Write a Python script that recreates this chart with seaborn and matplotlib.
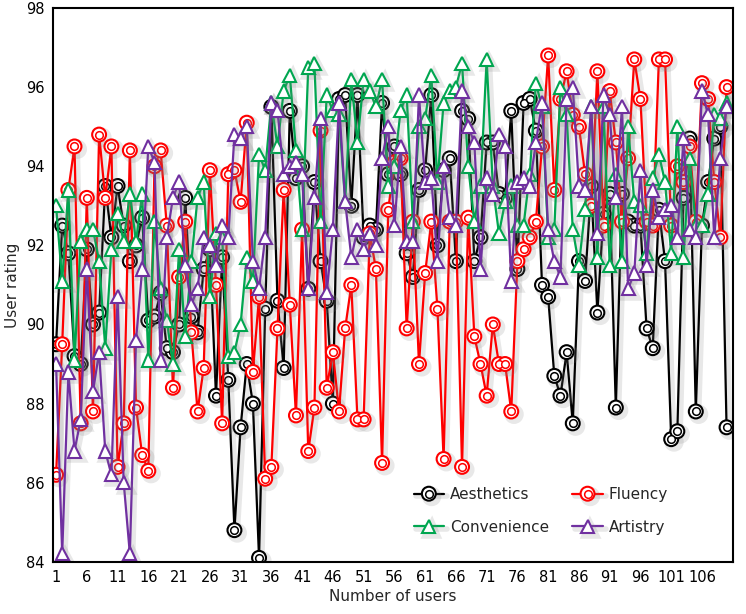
import numpy as np
import pandas as pd
import matplotlib
matplotlib.use("Agg")
import matplotlib.pyplot as plt
import matplotlib.patheffects as pe
from matplotlib.legend_handler import HandlerTuple
import seaborn as sns

# Data
users = list(range(1, 111))

aesthetics = [89.5, 92.5, 91.8, 89.2, 89.0, 91.9, 90.0, 90.3, 93.5, 92.2,
              93.5, 92.5, 91.6, 92.0, 92.7, 90.1, 90.2, 90.8, 89.4, 89.3,
              90.0, 93.2, 90.2, 89.8, 91.4, 91.9, 88.2, 91.7, 88.6, 84.8,
              87.4, 89.0, 88.0, 84.1, 90.4, 95.5, 90.6, 88.9, 95.4, 93.7,
              94.0, 90.9, 93.6, 91.6, 90.6, 88.0, 95.7, 95.8, 93.0, 95.8,
              92.2, 92.5, 92.4, 95.6, 93.8, 94.5, 93.8, 91.8, 91.2, 93.4,
              93.9, 95.8, 92.0, 93.9, 94.2, 91.6, 95.4, 95.2, 91.6, 92.2,
              94.6, 94.6, 93.3, 93.2, 95.4, 91.4, 95.6, 95.7, 94.9, 91.0,
              90.7, 88.7, 88.2, 89.3, 87.5, 91.6, 91.1, 93.5, 90.3, 92.8,
              93.3, 87.9, 93.3, 92.6, 92.5, 92.5, 89.9, 89.4, 92.9, 91.6,
              87.1, 87.3, 93.2, 94.7, 87.8, 92.5, 93.6, 94.7, 95.0, 87.4]

fluency = [86.2, 89.5, 93.4, 94.5, 87.5, 93.2, 87.8, 94.8, 93.2, 94.5,
           86.4, 87.5, 94.4, 87.9, 86.7, 86.3, 94.0, 94.4, 92.5, 88.4,
           91.2, 92.6, 89.8, 87.8, 88.9, 93.9, 91.0, 87.5, 93.8, 93.9,
           93.1, 95.1, 88.8, 90.7, 86.1, 86.4, 89.9, 93.4, 90.5, 87.7,
           92.4, 86.8, 87.9, 94.9, 88.4, 89.3, 87.8, 89.9, 91.0, 87.6,
           87.6, 92.3, 91.4, 86.5, 92.9, 94.1, 94.2, 89.9, 92.6, 89.0,
           91.3, 92.6, 90.4, 86.6, 92.6, 92.6, 86.4, 92.7, 89.7, 89.0,
           88.2, 90.0, 89.0, 89.0, 87.8, 91.6, 91.9, 92.2, 92.6, 94.5,
           96.8, 93.4, 95.7, 96.4, 95.3, 95.0, 93.8, 93.0, 96.4, 92.5,
           95.9, 94.6, 92.6, 94.2, 96.7, 95.7, 92.6, 92.5, 96.7, 96.7,
           92.5, 94.0, 93.6, 94.5, 92.6, 96.1, 95.7, 93.6, 92.2, 96.0]

convenience = [93.0, 91.1, 93.4, 89.1, 92.1, 92.4, 92.4, 91.6, 89.4, 91.9,
               92.8, 92.1, 93.3, 92.1, 93.3, 89.1, 92.6, 90.9, 90.1, 89.0,
               91.9, 89.7, 91.6, 93.2, 93.6, 90.7, 92.3, 92.2, 89.2, 89.3,
               90.0, 91.7, 91.1, 94.3, 93.9, 95.6, 94.5, 95.9, 96.3, 94.4,
               92.4, 96.5, 96.6, 92.6, 95.8, 95.4, 95.3, 93.1, 96.2, 94.6,
               96.2, 95.9, 95.5, 96.2, 93.5, 94.0, 95.4, 95.8, 92.6, 95.0,
               95.2, 96.3, 93.6, 95.6, 95.9, 96.0, 96.6, 94.0, 92.6, 93.5,
               96.7, 93.5, 92.3, 93.1, 93.5, 92.5, 92.5, 93.8, 96.1, 95.5,
               92.2, 92.4, 96.0, 95.3, 92.4, 91.5, 92.9, 95.5, 91.7, 95.5,
               91.5, 93.8, 91.6, 95.0, 93.1, 93.0, 91.8, 93.7, 94.3, 93.6,
               91.8, 95.0, 91.7, 94.2, 92.5, 92.5, 93.3, 95.3, 95.2, 95.6]

artistry = [89.0, 84.2, 88.8, 86.8, 87.6, 91.4, 88.3, 89.3, 86.8, 86.2,
            90.7, 86.0, 84.2, 89.6, 91.4, 94.5, 94.1, 89.1, 92.2, 93.2,
            93.6, 91.5, 90.5, 90.9, 92.2, 92.0, 91.5, 92.5, 92.2, 94.8,
            94.7, 95.0, 91.6, 90.9, 92.2, 95.6, 95.4, 93.8, 94.0, 94.1,
            93.8, 90.9, 93.2, 95.2, 90.8, 92.4, 95.6, 93.1, 91.7, 92.4,
            91.9, 92.3, 92.0, 94.2, 95.0, 92.5, 94.5, 92.1, 92.1, 95.8,
            93.6, 93.7, 91.6, 94.0, 92.7, 92.5, 95.9, 95.0, 94.6, 91.4,
            93.7, 93.3, 94.8, 94.5, 91.1, 93.6, 93.7, 93.5, 94.6, 95.6,
            92.4, 91.6, 91.2, 95.7, 96.0, 93.5, 93.4, 95.5, 92.3, 95.8,
            95.3, 93.2, 95.5, 90.9, 91.3, 93.9, 91.5, 93.4, 92.7, 92.9,
            93.0, 92.2, 94.7, 92.4, 92.2, 95.9, 95.3, 92.2, 94.2, 95.5]

series_names = ["Aesthetics", "Fluency", "Convenience", "Artistry"]
series_vals = [aesthetics, fluency, convenience, artistry]
colors = ["#000000", "#ff0000", "#00a650", "#7030a0"]
markers = ["o", "o", "^", "^"]

sns.set_style("white")
plt.rcParams["font.family"] = ["DejaVu Sans"]

fig = plt.figure(figsize=(7.46, 6.14), dpi=100)
ax = fig.add_axes([0.071, 0.085, 0.912, 0.902])

# soft grey drop shadow like the original
shadow = [pe.SimpleLineShadow(offset=(2, -2), shadow_color="gray", alpha=0.18, linewidth=4),
          pe.Normal()]

handles = {}
for name, vals, c, m in zip(series_names, series_vals, colors, markers):
    df = pd.DataFrame({"users": users, "rating": vals})
    sns.lineplot(data=df, x="users", y="rating", ax=ax, color=c, linewidth=1.6,
                 marker=m, markersize=10 if m == "o" else 9.5,
                 markerfacecolor="white", markeredgecolor=c, markeredgewidth=1.5,
                 path_effects=shadow)
    line = ax.lines[-1]
    if m == "o":
        inner = ax.plot(users, vals, linestyle="none", marker="o", markersize=5.5,
                        markerfacecolor="white", markeredgecolor=c,
                        markeredgewidth=1.1)[0]
        handles[name] = (line, inner)
    else:
        handles[name] = line

ax.set_xlim(0.5, 111.1)
ax.set_ylim(84, 98)
ax.set_xticks(range(1, 107, 5))
ax.set_yticks(range(84, 99, 2))
ax.tick_params(direction="in", length=5, width=1.2, labelsize=10.5, colors="black", pad=6)
for s in ax.spines.values():
    s.set_color("black")
    s.set_linewidth(1.5)
ax.set_xlabel("Number of users", fontsize=11)
ax.set_ylabel("User rating", fontsize=11)
ax.xaxis.labelpad = 3

order = ["Aesthetics", "Convenience", "Fluency", "Artistry"]
ax.legend([handles[n] for n in order], order, ncol=2, frameon=False,
          loc="upper left", bbox_to_anchor=(0.53, 0.135), fontsize=11,
          handlelength=2.0, handletextpad=0.4, columnspacing=1.5, labelspacing=1.15,
          borderaxespad=0, borderpad=0,
          handler_map={tuple: HandlerTuple(ndivide=1)})

fig.savefig("out.png", dpi=100)
